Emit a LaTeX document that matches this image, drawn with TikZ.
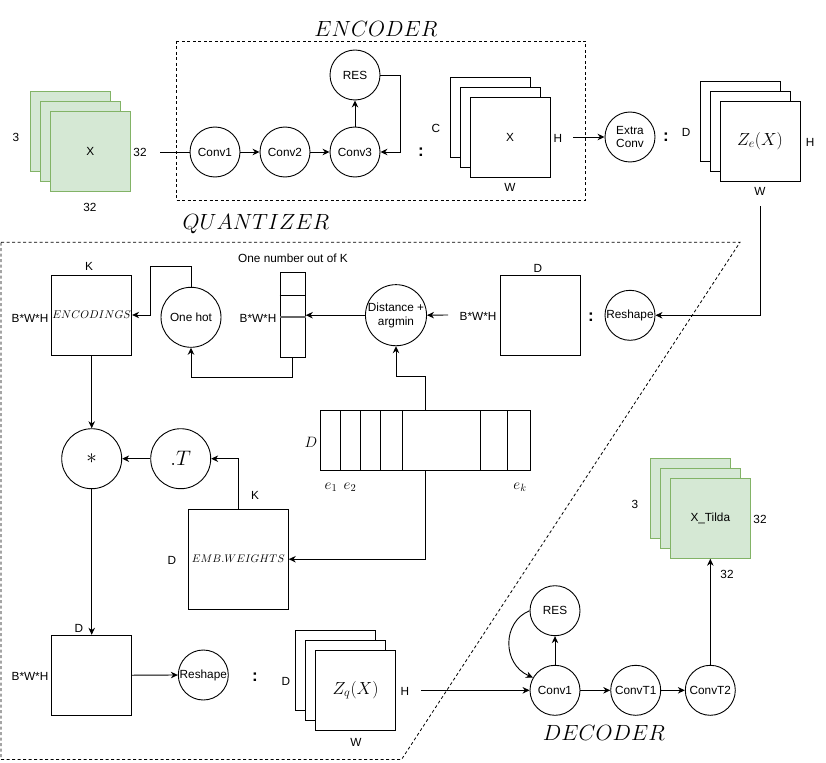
\RequirePackage{fix-cm}
\documentclass[tikz,border=0pt]{standalone}
\usepackage[no-math]{fontspec}
\setmainfont{Liberation Sans}
\usetikzlibrary{arrows.meta}
\definecolor{sheetfill}{HTML}{D5E8D4}
\definecolor{sheetline}{HTML}{82B366}

\begin{document}
\begin{tikzpicture}[x=1pt,y=-1pt,
  every node/.style={font=\fontsize{11.8}{13.5}\selectfont},
  op/.style={circle,draw,line width=0.9pt,minimum size=50pt,inner sep=0pt,align=center},
  bigop/.style={op,minimum size=60pt},
  mat/.style={rectangle,draw,line width=0.9pt,minimum width=80pt,minimum height=80pt,inner sep=0pt,fill=white},
  sheet/.style={mat,fill=sheetfill,draw=sheetline},
  lbl/.style={inner sep=0pt},
  arr/.style={-{Stealth[length=7pt,width=6.5pt]},line width=0.9pt},
  wire/.style={line width=0.9pt},
  region/.style={draw,line width=0.8pt,dash pattern=on 3pt off 2.5pt},
  title/.style={font=\fontsize{22}{26}\selectfont},
  sepcolon/.style={inner sep=0pt,font=\fontsize{17}{20}\selectfont\bfseries},
  bigmath/.style={font=\fontsize{17.5}{20}\selectfont},
  opmath/.style={font=\fontsize{21}{24}\selectfont},
  vecmath/.style={lbl,font=\fontsize{15}{17}\selectfont}
]
\fill[white] (0,0) rectangle (826,762);
\useasboundingbox (0,0) rectangle (826,762);

% ---------- section titles and frames ----------
\node[title] (tEnc) at (376,29) {$ENCODER$};
\node[title] (tQuant) at (256,224) {$QUANTIZER$};
\node[title] (tDec) at (604,733) {$DECODER$};
\draw[region] (176,41) rectangle (585,200);
\draw[region] (1,242.3) -- (740,242.3) -- (401.5,759.5) -- (1,759.5) -- cycle;

% ---------- encoder ----------
\node[sheet] (x0) at (70.3,131.3) {};
\node[sheet] (x1) at (80.3,141.3) {};
\node[sheet] (x2) at (90.3,151.3) {X};
\node[lbl] (xc) at (16,137) {3};
\node[lbl] (xh) at (140,152) {32};
\node[lbl] (xw) at (90,207) {32};
\coordinate (xin) at (160,152);

\node[op] (conv1) at (215,152) {Conv1};
\node[op] (conv2) at (285,152) {Conv2};
\node[op] (conv3) at (355,152) {Conv3};
\node[op] (resE) at (355,75) {RES};

\node[sepcolon] (col1) at (421,152.5) {:};
\node[mat] (c0) at (490,117) {};
\node[mat] (c1) at (500,127) {};
\node[mat] (c2) at (510,137) {X};
\node[lbl] (cc) at (436,128) {C};
\node[lbl] (ch) at (558,138) {H};
\node[lbl] (cw) at (510,187) {W};
\coordinate (hout) at (573,137);

\node[op] (extra) at (630,137) {Extra\\Conv};
\node[sepcolon] (col2) at (666,137.5) {:};
\node[lbl] (zed) at (686,132) {D};
\node[mat] (ze0) at (740,121) {};
\node[mat] (ze1) at (750,131) {};
\node[mat,bigmath] (ze2) at (760,141) {$Z_e(X)$};
\node[lbl] (zeh) at (810,142) {H};
\node[lbl] (zew) at (760,191) {W};
\coordinate (zeout) at (760,206);

\draw[wire] (xin) -- (conv1);
\draw[arr] (conv1) -- (conv2);
\draw[arr] (conv2) -- (conv3);
\draw[arr] (conv3) -- (resE);
\draw[arr] (resE.east) -- ++(20,0) |- (conv3.east);
\draw[arr] (hout) -- (extra);

% ---------- quantizer ----------
\node[op] (reshape1) at (630,315.3) {Reshape};
\node[sepcolon] (col3) at (591,317) {:};
\node[mat] (flat) at (540.5,315.3) {};
\node[lbl] (flatd) at (538,268) {D};
\node[lbl] (flatn) at (478,316) {B*W*H};
\coordinate (flatin) at (448,315);

\node[bigop] (dist) at (396,315.2) {Distance +\\argmin};

\node[rectangle,draw,line width=0.9pt,minimum width=25.3pt,minimum height=85pt,inner sep=0pt] (vec) at (292.7,314.8) {};
\draw[line width=0.9pt] ([yshift=19.5pt]vec.west) -- ([yshift=19.5pt]vec.east);
\draw[line width=1.5pt,black!60] ([yshift=-2.2pt]vec.west) -- ([yshift=-2.2pt]vec.east);
\node[lbl] (vecnote) at (293,258) {One number out of K};
\node[lbl] (vecn) at (258,318) {B*W*H};

\node[bigop] (onehot) at (191,317.3) {One hot};

\node[mat] (enc) at (91.7,315) {\fontsize{11.2}{13}\selectfont$ENCODINGS$};
\node[lbl] (enck) at (89,266) {K};
\node[lbl] (encn) at (30,318) {B*W*H};

\node[rectangle,draw,line width=0.9pt,minimum width=210.4pt,minimum height=59.7pt,inner sep=0pt] (cb) at (425.5,440.2) {};
\foreach \xx in {340.3,360.3,380.7,402.3,480.3,507.3}
  \draw[line width=0.9pt] (\xx,410.3) -- (\xx,470.0);
\node[vecmath] (cbd) at (311,442) {$D$};
\node[vecmath] (e1) at (331,487) {$e_1$};
\node[vecmath] (e2) at (350,487) {$e_2$};
\node[vecmath] (ek) at (520,487) {$e_k$};

\node[bigop,opmath] (star) at (91.7,458.7) {$*$};
\node[bigop,opmath] (dotT) at (180.7,458.7) {$.T$};

\node[mat,minimum width=100pt,minimum height=100pt] (emb) at (238.3,559.2) {\fontsize{11}{13}\selectfont$EMB.WEIGHTS$};
\node[lbl] (embk) at (255,495) {K};
\node[lbl] (embd) at (172,560) {D};

\node[mat] (quant) at (91.7,675.2) {};
\node[lbl] (quantd) at (79,628) {D};
\node[lbl] (quantn) at (30,676) {B*W*H};

\node[op] (reshape2) at (203.3,675) {Reshape};
\node[sepcolon] (col4) at (255,677) {:};
\node[lbl] (zqd) at (286,681) {D};
\node[mat] (zq0) at (335.5,670.3) {};
\node[mat] (zq1) at (345.5,680.3) {};
\node[mat,bigmath] (zq2) at (355.5,690.3) {$Z_q(X)$};
\node[lbl] (zqh) at (405,691) {H};
\node[lbl] (zqw) at (356,742) {W};
\coordinate (zqout) at (421,690.3);

\draw[arr] (zeout) |- (reshape1.east);
\draw[arr] (flatin) -- (dist.east);
\draw[arr] (dist.west) -- (dist.west -| vec.east);
\draw[arr] (vec.south) -- ++(0,20) -| (onehot.south);
\draw[arr] (onehot.north) -- ++(0,-20) -- ++(-40.3,0) |- (enc.east);
\draw[arr] (cb.north) -- ++(0,-33) -| (dist.south);
\draw[arr] (cb.south) |- (emb.east);
\draw[arr] (emb.north) |- (dotT.east);
\draw[arr] (dotT.west) -- (star.east);
\draw[arr] (enc.south) -- (star.north);
\draw[arr] (star.south) -- (quant.north);
\draw[arr] (quant.east) -- (reshape2.west);

% ---------- decoder ----------
\node[op] (dconv1) at (555,690.3) {Conv1};
\node[op] (dres) at (555,610.7) {RES};
\node[op] (convT1) at (635.7,690.3) {ConvT1};
\node[op] (convT2) at (710.3,690.3) {ConvT2};

\node[sheet] (xt0) at (690.3,498.3) {};
\node[sheet] (xt1) at (700.3,508.3) {};
\node[sheet] (xt2) at (710.3,518.3) {X\_Tilda};
\node[lbl] (xtc) at (635,504) {3};
\node[lbl] (xth) at (760,519) {32};
\node[lbl] (xtw) at (727,574) {32};

\draw[arr] (zqout) -- (dconv1.west);
\draw[arr] (dconv1) -- (convT1);
\draw[arr] (convT1) -- (convT2);
\draw[arr] (dconv1) -- (dres);
\draw[arr] (dres.west) .. controls (502,622) and (502,664) .. (dconv1.150);
\draw[arr] (convT2.north) -- (xt2.south);
\end{tikzpicture}
\end{document}
